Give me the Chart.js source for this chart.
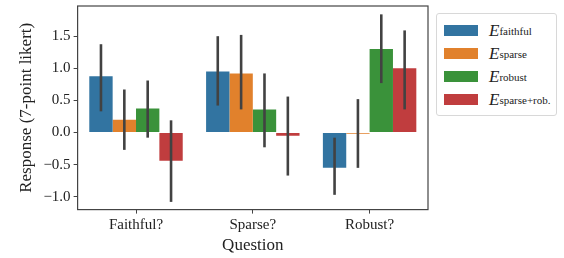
<!DOCTYPE html>
<html>
<head>
<meta charset="utf-8">
<script src="https://cdn.jsdelivr.net/npm/chart.js@4.4.0/dist/chart.umd.min.js"></script>
<style>
  body { margin: 0; background: #fff; }
  #wrap { position: relative; width: 564px; height: 258px; }
  #legend {
    position: absolute; left: 436px; top: 13px; width: 121px;
    border: 1px solid #d8d8d8; border-radius: 3px; background: #fff;
    font-family: "Liberation Serif", "DejaVu Serif", serif; font-size: 17px; color: #222;
    padding: 5px 0 4px 0; box-sizing: border-box;
  }
  #legend .row { display: flex; align-items: center; height: 23px; }
  #legend .sw { width: 34px; height: 11px; margin: 0 11px 0 7px; }
  #legend sub { font-size: 11px; vertical-align: -3px; }
</style>
</head>
<body>
<div id="wrap">
  <canvas id="chart" width="564" height="258"></canvas>
  <div id="legend"></div>
</div>
<script>
const questions = ['Faithful?', 'Sparse?', 'Robust?'];
const seriesNames = ['faithful', 'sparse', 'robust', 'sparse+rob.'];
const colors = ['#3274a1', '#e1812c', '#3a923a', '#c03d3e'];

// mean response per series, in question order
const faithfulMean = [0.875, 0.95, -0.55];
const sparseMean   = [0.20, 0.92, -0.02];
const robustMean   = [0.375, 0.36, 1.30];
const sparseRobMean = [-0.44, -0.05, 1.00];

// confidence interval ends
const faithfulLow  = [0.33, 0.42, -0.97];
const faithfulHigh = [1.375, 1.50, -0.08];
const sparseLow    = [-0.27, 0.36, -0.55];
const sparseHigh   = [0.67, 1.52, 0.52];
const robustLow    = [-0.08, -0.23, 0.77];
const robustHigh   = [0.81, 0.92, 1.84];
const sparseRobLow  = [-1.08, -0.67, 0.36];
const sparseRobHigh = [0.19, 0.56, 1.59];

const yTicks = [-1.0, -0.5, 0.0, 0.5, 1.0, 1.5];
const yTickLabels = ['\u22121.0', '\u22120.5', '0.0', '0.5', '1.0', '1.5'];

const means = [faithfulMean, sparseMean, robustMean, sparseRobMean];
const lows = [faithfulLow, sparseLow, robustLow, sparseRobLow];
const highs = [faithfulHigh, sparseHigh, robustHigh, sparseRobHigh];

const serif = '"Liberation Serif", "DejaVu Serif", serif';

// error bars drawn on top of the bars
const errorBars = {
  id: 'errorBars',
  afterDatasetsDraw(chart) {
    const ctx = chart.ctx;
    const y = chart.scales.y;
    ctx.save();
    ctx.strokeStyle = '#424242';
    ctx.lineWidth = 2.6;
    chart.data.datasets.forEach((ds, i) => {
      const meta = chart.getDatasetMeta(i);
      meta.data.forEach((bar, j) => {
        ctx.beginPath();
        ctx.moveTo(bar.x, y.getPixelForValue(lows[i][j]));
        ctx.lineTo(bar.x, y.getPixelForValue(highs[i][j]));
        ctx.stroke();
      });
    });
    ctx.restore();
  }
};

const frame = {
  id: 'frame',
  afterDraw(chart) {
    const a = chart.chartArea;
    const ctx = chart.ctx;
    ctx.save();
    ctx.strokeStyle = '#444';
    ctx.lineWidth = 1.2;
    ctx.strokeRect(a.left, a.top, a.right - a.left, a.bottom - a.top);
    ctx.restore();
  }
};

new Chart(document.getElementById('chart'), {
  type: 'bar',
  data: {
    labels: questions,
    datasets: means.map((m, i) => ({
      label: 'E ' + seriesNames[i],
      data: m,
      backgroundColor: colors[i],
      categoryPercentage: 0.8,
      barPercentage: 1.0
    }))
  },
  options: {
    responsive: false,
    animation: false,
    layout: { padding: { left: 12, right: 136, top: 6, bottom: -2 } },
    plugins: { legend: { display: false }, tooltip: { enabled: false } },
    scales: {
      x: {
        grid: { display: true, offset: false, drawOnChartArea: false, tickLength: 4, tickColor: '#444' },
        border: { display: false },
        ticks: { color: '#222', font: { family: serif, size: 15 }, padding: 2 },
        title: { display: true, text: 'Question', color: '#222', font: { family: serif, size: 17 }, padding: { top: 0 } }
      },
      y: {
        min: -1.2,
        max: 1.97,
        afterBuildTicks(scale) { scale.ticks = yTicks.map(v => ({ value: v })); },
        afterFit(scale) { scale.paddingTop = 0; },
        grid: { display: true, drawOnChartArea: false, tickLength: 4, tickColor: '#444' },
        border: { display: false },
        ticks: {
          color: '#222',
          font: { family: serif, size: 15 },
          padding: 3,
          callback: (v) => yTickLabels[yTicks.indexOf(v)]
        },
        title: { display: true, text: 'Response (7-point likert)', color: '#222', font: { family: serif, size: 17 }, padding: { bottom: 4 } }
      }
    }
  },
  plugins: [errorBars, frame]
});

const legend = document.getElementById('legend');
seriesNames.forEach((n, i) => {
  const row = document.createElement('div');
  row.className = 'row';
  row.innerHTML = '<span class="sw" style="background:' + colors[i] + '"></span><i>E</i><sub>' + n + '</sub>';
  legend.appendChild(row);
});
</script>
</body>
</html>
